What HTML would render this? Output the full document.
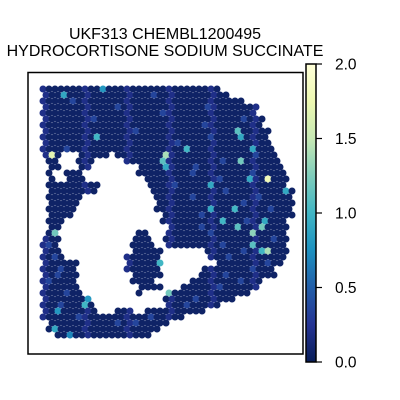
<!DOCTYPE html>
<html><head><meta charset="utf-8">
<style>
html,body{margin:0;padding:0;background:#fff;}
svg{display:block;font-family:"Liberation Sans","DejaVu Sans",sans-serif;}
</style></head>
<body>
<svg id="chart" width="400" height="400" viewBox="0 0 400 400">
  <defs>
    <linearGradient id="cbgrad" x1="0" y1="1" x2="0" y2="0">
      <stop offset="0" stop-color="#081d58"/>
      <stop offset="0.125" stop-color="#253494"/>
      <stop offset="0.25" stop-color="#225ea8"/>
      <stop offset="0.375" stop-color="#1d91c0"/>
      <stop offset="0.5" stop-color="#41b6c4"/>
      <stop offset="0.625" stop-color="#7fcdbb"/>
      <stop offset="0.75" stop-color="#c7e9b4"/>
      <stop offset="0.875" stop-color="#edf8b1"/>
      <stop offset="1" stop-color="#ffffd9"/>
    </linearGradient>
  </defs>
  <text x="165" y="39" text-anchor="middle" font-size="16">UKF313 CHEMBL1200495</text>
  <text x="165" y="56" text-anchor="middle" font-size="16">HYDROCORTISONE SODIUM SUCCINATE</text>
  <g id="spots"></g>
  <rect x="28" y="72.5" width="275" height="281.5" fill="none" stroke="#000" stroke-width="1.5"/>
  <rect x="306" y="64" width="10" height="298" fill="url(#cbgrad)" stroke="#000" stroke-width="1.5"/>
  <g id="cbticks"></g>
</svg>
<script>
// tissue extent per row (column indices), rows top->bottom
const rowStart = [0,0,0,0,0,0,0,0,0,0,0,0,1,1,1,1,1,1,1,1,1,1,1,1,1,0,0,0,0,0,0,0,0,0,0,0,0,0,0,1,1,2];
const rowEnd   = [29,30,33,35,35,36,36,37,37,37,38,38,39,39,40,40,40,41,41,41,41,41,40,40,40,40,40,40,40,39,38,38,36,35,34,31,29,26,23,20,19,17];
// holes: [row, fromCol, toCol]
const holes = [
 [11,11,11],[11,3,5],[12,9,13],[12,3,5],[13,8,15],[13,3,5],[14,7,15],[14,2,3],[15,7,16],[15,2,3],
 [16,10,17],[17,9,17],[18,7,18],[19,6,18],[20,6,18],[21,5,19],[22,4,19],[23,3,20],
 [24,3,15],[24,18,20],[25,3,14],[25,18,19],[26,3,14],[26,19,20],[27,3,14],[27,20,26],
 [28,4,13],[28,20,27],[29,6,13],[29,20,28],[30,6,13],[30,20,26],[31,6,14],[31,20,25],
 [32,6,14],[32,19,24],[33,6,15],[33,20,22],[34,7,15],[34,17,20],[35,8,19],[36,9,20],
 [37,9,11],[37,15,16]
];
// bright spots: [row, col, value]
const highlights = [
 [1,3,0.9],[0,10,0.8],[8,9,1.0],[11,1,1.7],[11,20,1.4],[12,20,1.1],[10,24,1.0],[13,20,0.9],
 [7,32,1.1],[8,33,0.9],[10,35,0.9],[12,33,1.2],[15,37,1.8],[15,34,0.9],[16,28,0.9],[17,40,0.9],
 [22,37,0.9],[22,30,1.0],[23,32,1.1],[23,36,1.2],[24,35,1.3],[26,35,1.1],[27,37,1.4],[27,36,1.0],
 [20,32,1.0],[18,8,0.9],[19,6,1.3],[21,5,1.2],[24,2,1.2],[29,19,1.0],[30,13,1.1],[33,20,1.0],
 [34,21,1.2],[35,7,0.8],[36,7,1.0],[37,2,0.8],[40,2,0.9],[41,4,0.7],[34,17,0.9],[20,28,0.9]
];
// medium spots
const mids = [
 [2,5],[3,12],[4,20],[5,8],[6,27],[7,15],[9,22],[10,4],[12,30],[13,25],[14,35],[16,22],[17,30],
 [18,25],[19,33],[20,38],[21,26],[22,34],[24,28],[25,38],[26,30],[27,33],[28,31],[29,37],[30,35],
 [31,30],[32,33],[33,29],[28,2],[30,3],[32,1],[34,4],[36,3],[38,6],[39,12],[38,18],[1,18],[3,27],
 [5,33],[8,28],[11,35],[14,25],[15,29],[18,36],[23,26],[26,1],[31,2],[35,25],[36,24],[39,15]
];
const cbTicks = [0.0,0.5,1.0,1.5,2.0];
const vmax = 2.0;

const stops=[[8,29,88],[37,52,148],[34,94,168],[29,145,192],[65,182,196],[127,205,187],[199,233,180],[237,248,177],[255,255,217]];
function cmap(v){
  let t=Math.max(0,Math.min(1,v/vmax))*8, i=Math.min(7,Math.floor(t)), f=t-i;
  const a=stops[i],b=stops[i+1];
  return 'rgb('+a.map((c,k)=>Math.round(c+(b[k]-c)*f)).join(',')+')';
}
const x0=43, y0=89, dx=6, dy=6;
function sx(r,c){return x0+c*dx+(r%2?dx/2:0);}
function sy(r){return y0+r*dy;}
function cbY(v){return 362-v/vmax*298;}

const key=(r,c)=>r+'_'+c;
const val={};
mids.forEach(([r,c])=>val[key(r,c)]=0.35);
highlights.forEach(([r,c,v])=>val[key(r,c)]=v);
const NS='http://www.w3.org/2000/svg';
const g=document.getElementById('spots');
for(let r=0;r<rowStart.length;r++){
  for(let c=rowStart[r];c<=rowEnd[r];c++){
    if(holes.some(h=>h[0]===r&&c>=h[1]&&c<=h[2]))continue;
    const v=val[key(r,c)]!==undefined?val[key(r,c)]:((r*7+c*3)%7===0?0.2:0.06);
    const e=document.createElementNS(NS,'circle');
    e.setAttribute('cx',sx(r,c));e.setAttribute('cy',sy(r));e.setAttribute('r',3.5);
    e.setAttribute('fill',cmap(v));
    
    
    g.appendChild(e);
  }
}
const tg=document.getElementById('cbticks');
cbTicks.forEach(t=>{
  const y=cbY(t);
  const l=document.createElementNS(NS,'line');
  l.setAttribute('x1',316);l.setAttribute('x2',322);l.setAttribute('y1',y);l.setAttribute('y2',y);
  l.setAttribute('stroke','#000');l.setAttribute('stroke-width',1.2);
  
  
  tg.appendChild(l);
  const tx=document.createElementNS(NS,'text');
  tx.setAttribute('x',335);tx.setAttribute('y',y+5.5);tx.setAttribute('font-size',15.5);
  tx.textContent=t.toFixed(1);
  
  
  tg.appendChild(tx);
});
</script>
</body></html>
